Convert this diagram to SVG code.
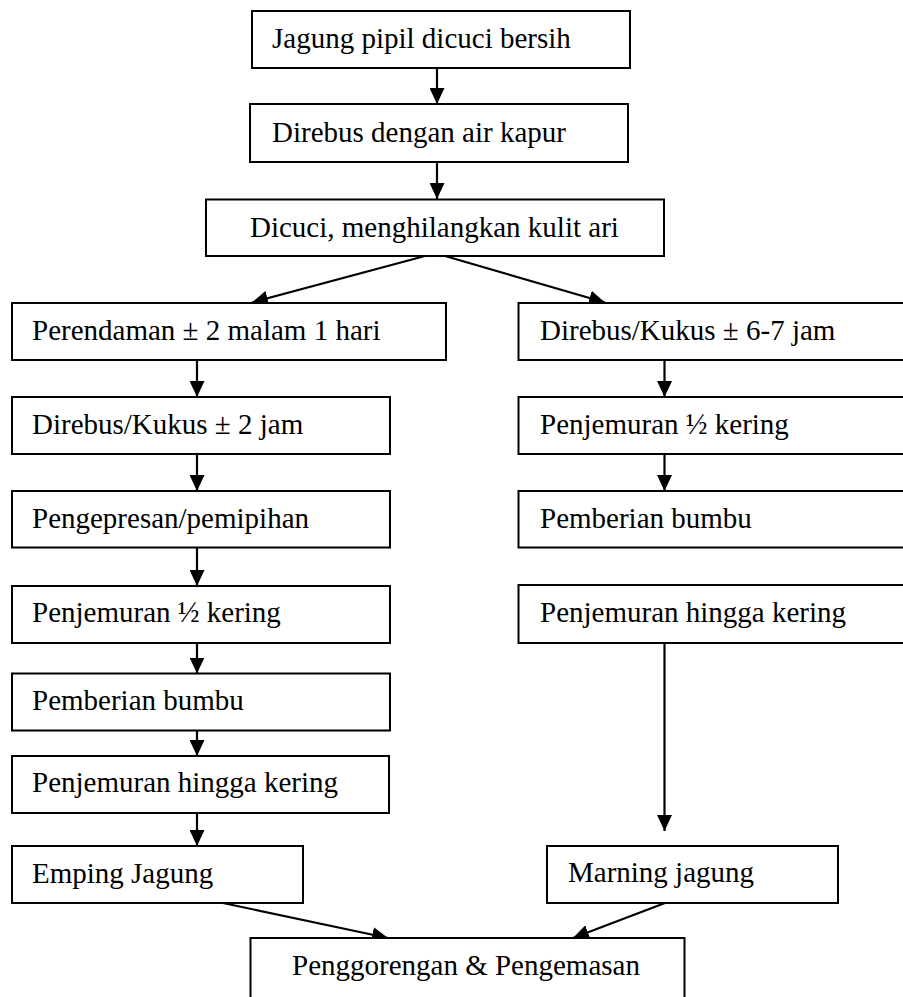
<svg xmlns="http://www.w3.org/2000/svg" width="903" height="997" viewBox="0 0 903 997">
<style>
.box{fill:#fff;stroke:#000;stroke-width:2}
.t{font-family:"Liberation Serif","Times New Roman",serif;font-size:29px;fill:#000}
.c{fill:none;stroke:#000;stroke-width:2.2}
</style>
<defs>
<marker id="ah" markerUnits="userSpaceOnUse" markerWidth="16" markerHeight="15" refX="16" refY="7.5" orient="auto">
<path d="M0,0 L16,7.5 L0,15 z" fill="#000"/>
</marker>
</defs>
<rect width="903" height="997" fill="#fff"/>
<g id="connectors">
<line class="c" x1="437" y1="68" x2="437" y2="104" marker-end="url(#ah)"/>
<line class="c" x1="437" y1="162" x2="437" y2="199" marker-end="url(#ah)"/>
<line class="c" x1="425" y1="256" x2="252" y2="302.5" marker-end="url(#ah)"/>
<line class="c" x1="445" y1="256" x2="605" y2="302.5" marker-end="url(#ah)"/>
<line class="c" x1="197" y1="360" x2="197" y2="397" marker-end="url(#ah)"/>
<line class="c" x1="197" y1="454" x2="197" y2="491" marker-end="url(#ah)"/>
<line class="c" x1="197" y1="547.5" x2="197" y2="586" marker-end="url(#ah)"/>
<line class="c" x1="197" y1="643" x2="197" y2="673.5" marker-end="url(#ah)"/>
<line class="c" x1="197" y1="730.5" x2="197" y2="756" marker-end="url(#ah)"/>
<line class="c" x1="197" y1="813" x2="197" y2="846" marker-end="url(#ah)"/>
<line class="c" x1="664.5" y1="360" x2="664.5" y2="397" marker-end="url(#ah)"/>
<line class="c" x1="664.5" y1="454" x2="664.5" y2="491" marker-end="url(#ah)"/>
<line class="c" x1="664.5" y1="643" x2="664.5" y2="831" marker-end="url(#ah)"/>
<line class="c" x1="223" y1="903" x2="388" y2="938" marker-end="url(#ah)"/>
<line class="c" x1="665" y1="903" x2="573" y2="938" marker-end="url(#ah)"/>
</g>
<g id="n1"><rect class="box" x="252" y="11" width="378" height="57"/><text class="t" x="272" y="48">Jagung pipil dicuci bersih</text></g>
<g id="n2"><rect class="box" x="250" y="104" width="378" height="58"/><text class="t" x="272" y="142">Direbus dengan air kapur</text></g>
<g id="n3"><rect class="box" x="206" y="199.5" width="458" height="56.5"/><text class="t" x="250" y="237">Dicuci, menghilangkan kulit ari</text></g>
<g id="l1"><rect class="box" x="12" y="303" width="434" height="57"/><text class="t" x="32" y="340">Perendaman ± 2 malam 1 hari</text></g>
<g id="l2"><rect class="box" x="12" y="397" width="378" height="57"/><text class="t" x="32" y="434">Direbus/Kukus ± 2 jam</text></g>
<g id="l3"><rect class="box" x="12" y="491" width="378" height="56.5"/><text class="t" x="32" y="528">Pengepresan/pemipihan</text></g>
<g id="l4"><rect class="box" x="12" y="586" width="378" height="57"/><text class="t" x="32" y="622">Penjemuran ½ kering</text></g>
<g id="l5"><rect class="box" x="12" y="673.5" width="378" height="57"/><text class="t" x="32" y="710">Pemberian bumbu</text></g>
<g id="l6"><rect class="box" x="12" y="756" width="377" height="57"/><text class="t" x="32" y="792">Penjemuran hingga kering</text></g>
<g id="l7"><rect class="box" x="12" y="846" width="291" height="57"/><text class="t" x="32" y="883">Emping Jagung</text></g>
<g id="r1"><rect class="box" x="518.5" y="303" width="420" height="57"/><text class="t" x="540" y="340">Direbus/Kukus ± 6-7 jam</text></g>
<g id="r2"><rect class="box" x="518.5" y="397" width="420" height="57"/><text class="t" x="540" y="434">Penjemuran ½ kering</text></g>
<g id="r3"><rect class="box" x="518.5" y="491" width="420" height="56.5"/><text class="t" x="540" y="528">Pemberian bumbu</text></g>
<g id="r4"><rect class="box" x="518.5" y="585" width="420" height="58"/><text class="t" x="540" y="622">Penjemuran hingga kering</text></g>
<g id="r5"><rect class="box" x="547" y="846" width="291" height="57"/><text class="t" x="568" y="882">Marning jagung</text></g>
<g id="fin"><rect class="box" x="250.5" y="938" width="434" height="70"/><text class="t" x="292" y="975">Penggorengan &amp; Pengemasan</text></g>
</svg>
